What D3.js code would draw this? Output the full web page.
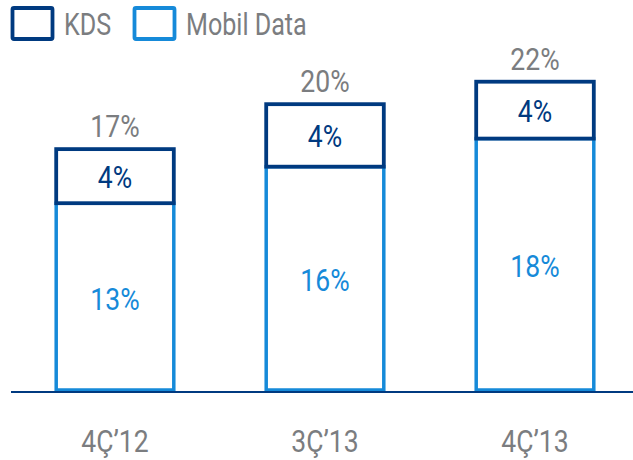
<!DOCTYPE html>
<html>
<head>
<meta charset="utf-8">
<script src="https://cdn.jsdelivr.net/npm/d3@7"></script>
<style>
  body { margin: 0; background: #fff; }
  text { font-family: Roboto, "DejaVu Sans", sans-serif; }
</style>
</head>
<body>
<div id="chart"></div>
<script>
const categories = ["4Ç\u201912", "3Ç\u201913", "4Ç\u201913"];
const mobilData = [13.3, 15.9, 17.9];
const kds = [3.85, 4.45, 4.05];
const mobilLabels = ["13%", "16%", "18%"];
const kdsLabels = ["4%", "4%", "4%"];
const totals = ["17%", "20%", "22%"];

const W = 633, H = 460;
const dark = "#003a80", light = "#168ad9", grey = "#7b7d80";
const squeeze = 0.83; // narrow the glyphs, source font is condensed

const svg = d3.select("#chart").append("svg")
    .attr("width", W).attr("height", H);

const x = d3.scaleBand()
    .domain(categories)
    .range([10, 640])
    .paddingInner(0.44)
    .paddingOuter(0.22);

const y = d3.scaleLinear()
    .domain([0, 22])
    .range([390, 81]);

function label(g, tx, ty, str, color, size) {
    g.append("text")
        .attr("transform", `translate(${tx},${ty}) scale(${squeeze},1)`)
        .attr("text-anchor", "middle")
        .attr("fill", color)
        .style("font-size", size + "px")
        .text(str);
}

const bars = svg.selectAll(".bar")
    .data(categories)
    .enter().append("g")
    .attr("class", "bar");

// Mobil Data part
bars.append("rect")
    .attr("x", d => x(d))
    .attr("width", x.bandwidth())
    .attr("y", (d, i) => y(mobilData[i]))
    .attr("height", (d, i) => y(0) - y(mobilData[i]))
    .attr("fill", "#fff")
    .attr("stroke", light)
    .attr("stroke-width", 3.5);

// KDS part
bars.append("rect")
    .attr("x", d => x(d))
    .attr("width", x.bandwidth())
    .attr("y", (d, i) => y(mobilData[i] + kds[i]))
    .attr("height", (d, i) => y(mobilData[i]) - y(mobilData[i] + kds[i]))
    .attr("fill", "#fff")
    .attr("stroke", dark)
    .attr("stroke-width", 3.8);

bars.each(function (d, i) {
    const g = d3.select(this);
    const cx = x(d) + x.bandwidth() / 2;
    const top = y(mobilData[i] + kds[i]);
    label(g, cx, (y(0) + y(mobilData[i])) / 2 + 13, mobilLabels[i], light, 32);
    label(g, cx, (y(mobilData[i]) + top) / 2 + 12, kdsLabels[i], dark, 32);
    label(g, cx, top - 12, totals[i], grey, 32);
    label(g, cx, 452, d, grey, 32);
});

// baseline
svg.append("line")
    .attr("x1", 11).attr("x2", W)
    .attr("y1", 392).attr("y2", 392)
    .attr("stroke", dark)
    .attr("stroke-width", 2);

// legend
const legend = [
    { name: "KDS", color: dark, x: 11 },
    { name: "Mobil Data", color: light, x: 133 }
];
const lg = svg.append("g").attr("class", "legend");
legend.forEach(l => {
    lg.append("rect")
        .attr("x", l.x + 1.5).attr("y", 8)
        .attr("width", 40).attr("height", 31)
        .attr("rx", 1.5)
        .attr("fill", "none")
        .attr("stroke", l.color)
        .attr("stroke-width", 3.8);
    lg.append("text")
        .attr("transform", `translate(${l.x + 53},35) scale(0.81,1)`)
        .attr("fill", grey)
        .style("font-size", "31px")
        .text(l.name);
});
</script>
</body>
</html>
